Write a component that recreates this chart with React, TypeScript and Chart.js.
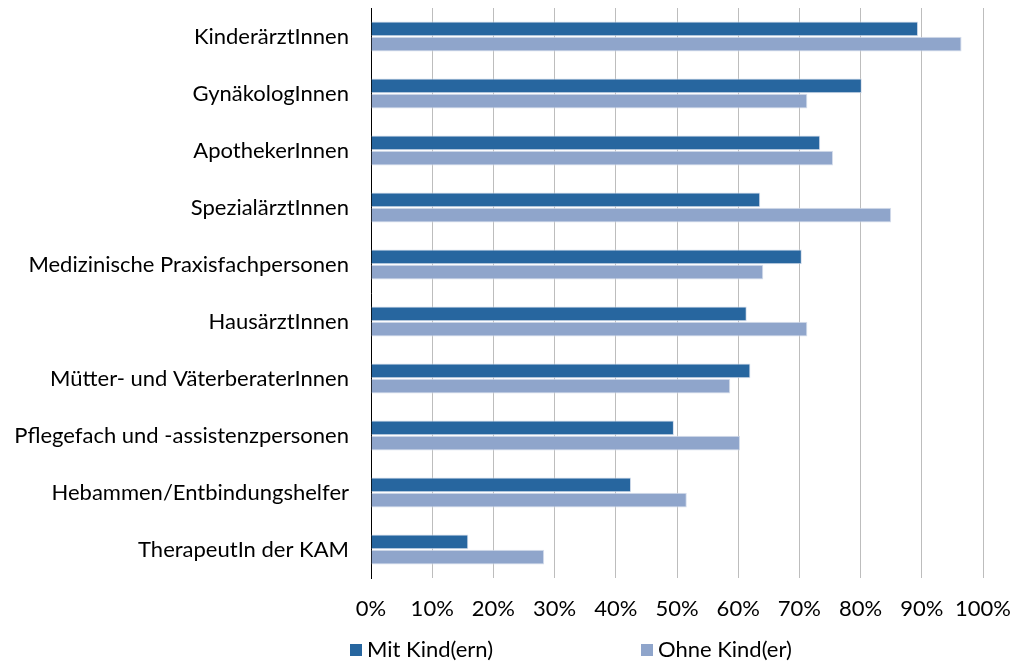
import React, { useEffect, useRef } from "react";
import { Chart, registerables } from "chart.js";

Chart.register(...registerables);

const categories = [
  "KinderärztInnen",
  "GynäkologInnen",
  "ApothekerInnen",
  "SpezialärztInnen",
  "Medizinische Praxisfachpersonen",
  "HausärztInnen",
  "Mütter- und VäterberaterInnen",
  "Pflegefach und -assistenzpersonen",
  "Hebammen/Entbindungshelfer",
  "TherapeutIn der KAM",
];
const mitKind = [89.4, 80.2, 73.4, 63.6, 70.4, 61.4, 62.0, 49.5, 42.5, 15.9];
const ohneKind = [96.5, 71.3, 75.5, 85.0, 64.1, 71.3, 58.7, 60.3, 51.6, 28.3];
const seriesNames = ["Mit Kind(ern)", "Ohne Kind(er)"];
const colors = ["#27669f", "#8fa5cb"];

const FONT = "Lato, 'Open Sans', sans-serif";
const FONT_SIZE = 22;

const legendPlugin = {
  id: "customLegend",
  afterDraw(chart: any) {
    const { ctx, chartArea } = chart;
    const y = 650;
    const xs = [chartArea.left - 21, chartArea.left + 270];
    ctx.save();
    ctx.font = `${FONT_SIZE}px ${FONT}`;
    ctx.textBaseline = "middle";
    ctx.textAlign = "left";
    seriesNames.forEach((name, i) => {
      ctx.fillStyle = colors[i];
      ctx.fillRect(xs[i], y - 6, 12, 12);
      ctx.fillStyle = "#000";
      ctx.fillText(name, xs[i] + 17, y);
    });
    ctx.restore();
  },
};

export default function App() {
  const ref = useRef<HTMLCanvasElement>(null);
  useEffect(() => {
    if (!ref.current) return;
    const chart = new Chart(ref.current, {
      type: "bar",
      data: {
        labels: categories,
        datasets: [
          {
            label: seriesNames[0],
            data: mitKind,
            backgroundColor: colors[0],
            borderColor: "#d6deec",
            borderWidth: 1,
            barPercentage: 0.97,
            categoryPercentage: 0.53,
          },
          {
            label: seriesNames[1],
            data: ohneKind,
            backgroundColor: colors[1],
            borderColor: "#d6deec",
            borderWidth: 1,
            barPercentage: 0.97,
            categoryPercentage: 0.53,
          },
        ],
      },
      options: {
        indexAxis: "y",
        animation: false,
        responsive: true,
        maintainAspectRatio: false,
        layout: { padding: { top: 8, right: 30, bottom: 0, left: 0 } },
        plugins: {
          legend: { display: false },
          tooltip: { enabled: false },
        },
        scales: {
          x: {
            min: 0,
            max: 100,
            ticks: {
              stepSize: 10,
              callback: (v: any) => v + "%",
              color: "#000",
              font: { family: FONT, size: FONT_SIZE },
              padding: 18,
              maxRotation: 0,
              minRotation: 0,
              autoSkip: false,
            },
            grid: { color: "#bdbdbd", lineWidth: 1, drawTicks: false },
            border: { display: false },
            afterFit: (axis: any) => {
              axis.height = 85;
              axis.paddingLeft = 0;
              axis.paddingRight = 0;
            },
          },
          y: {
            ticks: {
              color: "#000",
              font: { family: FONT, size: FONT_SIZE },
              padding: 22,
            },
            grid: { display: false, drawTicks: false },
            border: { display: true, color: "#000", width: 1 },
            afterFit: (axis: any) => {
              axis.width = 371;
              axis.paddingTop = 0;
              axis.paddingBottom = 0;
            },
          },
        },
      },
      plugins: [legendPlugin],
    });
    return () => chart.destroy();
  }, []);
  return (
    <div style={{ position: "absolute", left: 0, top: 0, width: 1013, height: 663, background: "#fff" }}>
      <canvas ref={ref} />
    </div>
  );
}
